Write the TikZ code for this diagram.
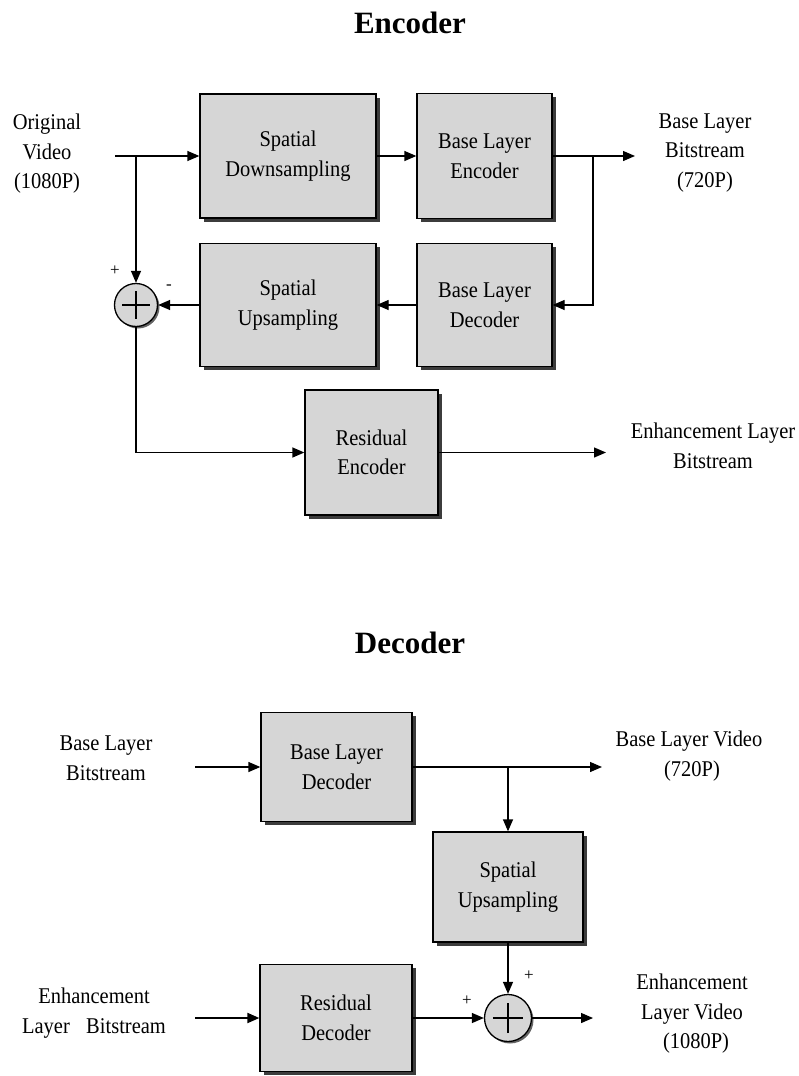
\documentclass[tikz,border=0pt]{standalone}
\usepackage{fontspec}
\setmainfont[FakeStretch=0.91]{Liberation Serif}
\newfontfamily\headfont{Liberation Serif}
\usetikzlibrary{arrows.meta,shadows}
\definecolor{blockfill}{HTML}{D6D6D6}
\definecolor{blockshadow}{HTML}{3C3C3C}
\begin{document}
\begin{tikzpicture}[x=1pt,y=-1pt,
  txt/.style={font=\fontsize{22.5}{29.5}\selectfont, align=center, inner sep=0pt},
  title/.style={font=\headfont\fontsize{31}{34}\selectfont\bfseries, inner sep=0pt},
  block/.style={draw, line width=1.3pt, fill=blockfill,
    font=\fontsize{22.5}{29.5}\selectfont, align=center, inner sep=0pt,
    drop shadow={shadow xshift=3.5pt, shadow yshift=-3.5pt, fill=blockshadow, opacity=1}},
  adder/.style={circle, draw, line width=1.3pt, fill=blockfill, inner sep=0pt,
    minimum size=#1,
    drop shadow={shadow xshift=2pt, shadow yshift=-2pt, fill=blockshadow, opacity=0.8},
    path picture={
      \draw[line width=1.1pt] ([yshift=-0.32*#1]path picture bounding box.center) -- ([yshift=0.32*#1]path picture bounding box.center);
      \draw[line width=1.1pt] ([xshift=-0.32*#1]path picture bounding box.center) -- ([xshift=0.32*#1]path picture bounding box.center);}},
  sign/.style={font=\headfont\fontsize{17}{19}\selectfont, inner sep=0pt},
  flow/.style={line width=1.3pt, -{Triangle[length=12pt,width=10pt]}}]
\useasboundingbox (0,0) rectangle (798,1076);

% ---------------- Encoder ----------------
\node[title] (enctitle) at (410,23) {Encoder};

\node[block, minimum width=176, minimum height=124] (down) at (288,156) {Spatial\\Downsampling};
\node[block, minimum width=135, minimum height=125] (blenc) at (484.5,156) {Base Layer\\Encoder};
\node[block, minimum width=176, minimum height=123] (up) at (288,305) {Spatial\\Upsampling};
\node[block, minimum width=135, minimum height=123] (bldec) at (484.5,305) {Base Layer\\Decoder};
\node[block, minimum width=133, minimum height=125] (resenc) at (371.5,452.5) {Residual\\Encoder};
\node[adder=43] (sum) at (136,305) {};

\node[txt] (orig) at (47,154) {Original\\Video\\(1080P)};
\node[txt] (blout) at (705,153) {Base Layer\\Bitstream\\(720P)};
\node[txt] (elout) at (713,446) {Enhancement Layer\\Bitstream};
\node[sign] (plusa) at (115,271) {+};
\node[sign] (minusa) at (169,287) {-};

\coordinate (in) at (115,156);
\coordinate (split) at (136,156);
\coordinate (blend) at (635,156);
\coordinate (fb) at (593,156);
\coordinate (resend) at (606,452.5);

\draw[flow] (in) -- (down.west);
\draw[flow] (split) -- (sum.north);
\draw[flow] (down.east) -- (blenc.west);
\draw[flow] (blenc.east) -- (blend);
\draw[flow] (fb) |- (bldec.east);
\draw[flow] (bldec.west) -- (up.east);
\draw[flow] (up.west) -- (sum.east);
\draw[flow] (sum.south) |- (resenc.west);
\draw[flow] (resenc.east) -- (resend);

% ---------------- Decoder ----------------
\node[title] (dectitle) at (410,643) {Decoder};

\node[block, minimum width=151, minimum height=109] (bldec2) at (336.5,767) {Base Layer\\Decoder};
\node[block, minimum width=150, minimum height=110] (up2) at (508,887) {Spatial\\Upsampling};
\node[block, minimum width=152, minimum height=107] (resdec) at (336,1018) {Residual\\Decoder};
\node[adder=47] (sum2) at (508,1018) {};

\node[txt] (blin) at (106,758) {Base Layer\\Bitstream};
\node[txt] (blvid) at (689,756) {Base Layer Video\\\hspace*{6pt}(720P)};
\node[txt] (elin) at (94,1013) {Enhancement\\Layer\hspace{0.5em} Bitstream};
\node[txt] (elvid) at (692,1014) {Enhancement\\Layer Video\\\hspace*{8pt}(1080P)};
\node[sign] (plusb) at (529,976) {+};
\node[sign] (plusc) at (467,1001) {+};

\coordinate (blinpt) at (195,767);
\coordinate (blvidpt) at (602,767);
\coordinate (tap) at (508,767);
\coordinate (elinpt) at (195,1018);
\coordinate (elvidpt) at (593,1018);

\draw[flow] (blinpt) -- (bldec2.west);
\draw[flow] (bldec2.east) -- (blvidpt);
\draw[flow] (tap) -- (up2.north);
\draw[flow] (up2.south) -- (sum2.north);
\draw[flow, line width=2pt] (elinpt) -- (resdec.west);
\draw[flow] (resdec.east) -- (sum2.west);
\draw[flow] (sum2.east) -- (elvidpt);
\end{tikzpicture}
\end{document}
